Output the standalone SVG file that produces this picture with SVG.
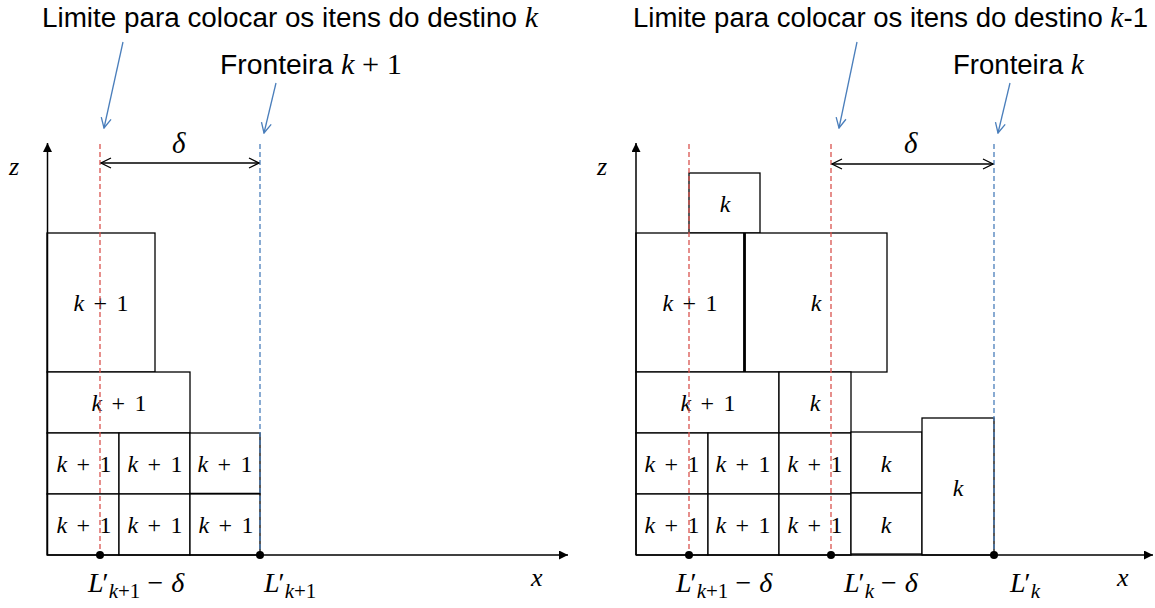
<svg xmlns="http://www.w3.org/2000/svg" width="1155" height="608" viewBox="0 0 1155 608">
<style>
.t{font-family:"Liberation Sans",Arial,sans-serif;font-size:27px;fill:#000}
.m{font-family:"Liberation Serif","DejaVu Serif",serif;fill:#000}
.mi{font-style:italic}
.lbl{font-family:"Liberation Serif","DejaVu Serif",serif;font-size:24px;text-anchor:middle;fill:#000}
.box{fill:#fff;stroke:#000;stroke-width:1.3}
.thick{fill:none;stroke:#000;stroke-width:2.5}
.ax{stroke:#000;stroke-width:1.5;fill:none}
.red{stroke:#d9534f;stroke-width:1.3;stroke-dasharray:5 3;fill:none}
.blue{stroke:#4a7ebb;stroke-width:1.3;stroke-dasharray:5 3;fill:none}
.call{stroke:#4a7ebb;stroke-width:1.3;fill:none}
.dim{stroke:#000;stroke-width:1.3;fill:none}
.bl{font-family:"Liberation Serif","DejaVu Serif",serif;font-size:28px;fill:#000}
.sub{font-size:21px}
</style>
<defs>
<marker id="ah" viewBox="0 0 10 10" refX="10" refY="5" markerWidth="10" markerHeight="9" markerUnits="userSpaceOnUse" orient="auto"><path d="M0,0 L10,5 L0,10 Z" fill="#000"/></marker>
<marker id="vb" viewBox="0 0 12 12" refX="11" refY="6" markerWidth="12" markerHeight="12" markerUnits="userSpaceOnUse" orient="auto"><path d="M1,1 L11,6 L1,11" fill="none" stroke="#4a7ebb" stroke-width="1.3"/></marker>
<marker id="vk" viewBox="0 0 12 12" refX="11" refY="6" markerWidth="12" markerHeight="12" markerUnits="userSpaceOnUse" orient="auto-start-reverse"><path d="M1,1 L11,6 L1,11" fill="none" stroke="#000" stroke-width="1.3"/></marker>
</defs>
<rect width="1155" height="608" fill="#fff"/>

<!-- titles -->
<g id="titles">
<text class="t" x="42" y="27" textLength="496" lengthAdjust="spacingAndGlyphs">Limite para colocar os itens do destino <tspan class="m mi" font-size="29">k</tspan></text>
<text class="t" x="220" y="74" textLength="182" lengthAdjust="spacingAndGlyphs">Fronteira <tspan class="m" font-size="29"><tspan class="mi">k</tspan> + 1</tspan></text>
<text class="t" x="633" y="27" textLength="515" lengthAdjust="spacingAndGlyphs">Limite para colocar os itens do destino <tspan class="m mi" font-size="29">k</tspan>-1</text>
<text class="t" x="953" y="74" textLength="131" lengthAdjust="spacingAndGlyphs">Fronteira <tspan class="m mi" font-size="29">k</tspan></text>
</g>

<!-- left panel boxes -->
<g id="L-top"><rect class="box" x="47" y="233" width="108" height="139"/><text class="lbl" x="101" y="311" textLength="55" lengthAdjust="spacing"><tspan class="mi">k</tspan> + 1</text></g>
<g id="L-row2"><rect class="box" x="47" y="372" width="143" height="61"/><text class="lbl" x="119" y="411" textLength="55" lengthAdjust="spacing"><tspan class="mi">k</tspan> + 1</text></g>
<g id="L-r3c1"><rect class="box" x="47" y="433" width="72" height="61"/><text class="lbl" x="84" y="472" textLength="55" lengthAdjust="spacing"><tspan class="mi">k</tspan> + 1</text></g>
<g id="L-r3c2"><rect class="box" x="119" y="433" width="71" height="61"/><text class="lbl" x="155" y="472" textLength="55" lengthAdjust="spacing"><tspan class="mi">k</tspan> + 1</text></g>
<g id="L-r3c3"><rect class="box" x="190" y="433" width="70" height="61"/><line class="thick" x1="190" y1="494" x2="260" y2="494" stroke-width="2"/><text class="lbl" x="225" y="472" textLength="55" lengthAdjust="spacing"><tspan class="mi">k</tspan> + 1</text></g>
<g id="L-r4c1"><rect class="box" x="47" y="494" width="72" height="61"/><text class="lbl" x="84" y="533" textLength="55" lengthAdjust="spacing"><tspan class="mi">k</tspan> + 1</text></g>
<g id="L-r4c2"><rect class="box" x="119" y="494" width="71" height="61"/><text class="lbl" x="155" y="533" textLength="55" lengthAdjust="spacing"><tspan class="mi">k</tspan> + 1</text></g>
<g id="L-r4c3"><rect class="box" x="190" y="494" width="70" height="61"/><text class="lbl" x="226" y="533" textLength="55" lengthAdjust="spacing"><tspan class="mi">k</tspan> + 1</text></g>

<!-- right panel boxes -->
<g id="R-topk"><rect class="box" x="689" y="173" width="71" height="60"/><text class="lbl" x="725" y="212"><tspan class="mi">k</tspan></text></g>
<g id="R-big1"><rect class="box" x="636" y="233" width="108" height="139"/><text class="lbl" x="690" y="311" textLength="55" lengthAdjust="spacing"><tspan class="mi">k</tspan> + 1</text></g>
<g id="R-bigk"><rect class="box" x="745" y="233" width="142" height="139"/><line class="thick" x1="744.5" y1="233" x2="744.5" y2="372" stroke-width="3"/><text class="lbl" x="816" y="311"><tspan class="mi">k</tspan></text></g>
<g id="R-row2a"><rect class="box" x="636" y="372" width="143" height="61"/><text class="lbl" x="708" y="411" textLength="55" lengthAdjust="spacing"><tspan class="mi">k</tspan> + 1</text></g>
<g id="R-row2b"><rect class="box" x="779" y="372" width="72" height="61"/><text class="lbl" x="815" y="411"><tspan class="mi">k</tspan></text></g>
<g id="R-r3c1"><rect class="box" x="636" y="433" width="72" height="61"/><text class="lbl" x="672" y="472" textLength="55" lengthAdjust="spacing"><tspan class="mi">k</tspan> + 1</text></g>
<g id="R-r3c2"><rect class="box" x="708" y="433" width="71" height="61"/><text class="lbl" x="743" y="472" textLength="55" lengthAdjust="spacing"><tspan class="mi">k</tspan> + 1</text></g>
<g id="R-r3c3"><rect class="box" x="779" y="433" width="72" height="61" stroke-width="2"/><text class="lbl" x="815" y="472" textLength="55" lengthAdjust="spacing"><tspan class="mi">k</tspan> + 1</text></g>
<g id="R-r3c4"><rect class="box" x="851" y="432" width="71" height="61" stroke-width="1.6"/><text class="lbl" x="886" y="472"><tspan class="mi">k</tspan></text></g>
<g id="R-r4c1"><rect class="box" x="636" y="494" width="72" height="61"/><text class="lbl" x="672" y="533" textLength="55" lengthAdjust="spacing"><tspan class="mi">k</tspan> + 1</text></g>
<g id="R-r4c2"><rect class="box" x="708" y="494" width="71" height="61"/><text class="lbl" x="743" y="533" textLength="55" lengthAdjust="spacing"><tspan class="mi">k</tspan> + 1</text></g>
<g id="R-r4c3"><rect class="box" x="779" y="494" width="72" height="61"/><text class="lbl" x="815" y="533" textLength="55" lengthAdjust="spacing"><tspan class="mi">k</tspan> + 1</text></g>
<g id="R-r4c4"><rect class="box" x="851" y="493" width="71" height="61" stroke-width="1.6"/><text class="lbl" x="886" y="533"><tspan class="mi">k</tspan></text></g>
<g id="R-tallk"><rect class="box" x="922" y="418" width="72" height="137"/><text class="lbl" x="958" y="496"><tspan class="mi">k</tspan></text></g>

<!-- connectors -->
<g id="connectors">
<line class="ax" x1="47.5" y1="555" x2="47.5" y2="143" marker-end="url(#ah)"/>
<line class="ax" x1="47" y1="555" x2="568" y2="555" marker-end="url(#ah)"/>
<line class="ax" x1="636" y1="555" x2="636" y2="143" marker-end="url(#ah)"/>
<line class="ax" x1="636" y1="555" x2="1153" y2="555" marker-end="url(#ah)"/>
<line class="red" x1="100" y1="144" x2="100" y2="555"/>
<line class="blue" x1="260" y1="144" x2="260" y2="555"/>
<line class="red" x1="689" y1="144" x2="689" y2="555"/>
<line class="red" x1="831" y1="144" x2="831" y2="555"/>
<line class="blue" x1="994" y1="144" x2="994" y2="555"/>
<line class="dim" x1="101" y1="163" x2="259" y2="163" marker-start="url(#vk)" marker-end="url(#vk)"/>
<line class="dim" x1="832" y1="164" x2="993" y2="164" marker-start="url(#vk)" marker-end="url(#vk)"/>
<line class="call" x1="123" y1="42" x2="104" y2="128" marker-end="url(#vb)"/>
<line class="call" x1="276" y1="83" x2="264" y2="133" marker-end="url(#vb)"/>
<line class="call" x1="857" y1="42" x2="839" y2="128" marker-end="url(#vb)"/>
<line class="call" x1="1010" y1="83" x2="998" y2="133" marker-end="url(#vb)"/>
<circle cx="100" cy="555" r="4"/>
<circle cx="260" cy="555" r="4"/>
<circle cx="689" cy="555" r="4"/>
<circle cx="831" cy="555" r="4"/>
<circle cx="994" cy="555" r="4"/>
</g>

<!-- axis and dimension labels -->
<g id="labels">
<text class="m mi" font-size="26" x="9" y="175">z</text>
<text class="m mi" font-size="26" x="597" y="175">z</text>
<text class="m mi" font-size="26" x="531" y="586">x</text>
<text class="m mi" font-size="26" x="1117" y="586">x</text>
<text class="m mi" font-size="29" x="172" y="153">δ</text>
<text class="m mi" font-size="29" x="904" y="153">δ</text>
<text class="bl" x="88" y="592"><tspan class="mi">L</tspan><tspan dx="-1">′</tspan><tspan class="sub" dy="6" dx="0"><tspan class="mi">k</tspan>+1</tspan><tspan dy="-6" dx="7">−</tspan><tspan class="mi" dx="8">δ</tspan></text>
<text class="bl" x="264" y="592"><tspan class="mi">L</tspan><tspan dx="-1">′</tspan><tspan class="sub" dy="6" dx="0"><tspan class="mi">k</tspan>+1</tspan></text>
<text class="bl" x="676" y="592"><tspan class="mi">L</tspan><tspan dx="-1">′</tspan><tspan class="sub" dy="6" dx="0"><tspan class="mi">k</tspan>+1</tspan><tspan dy="-6" dx="7">−</tspan><tspan class="mi" dx="8">δ</tspan></text>
<text class="bl" x="844" y="592"><tspan class="mi">L</tspan><tspan dx="-1">′</tspan><tspan class="sub mi" dy="6" dx="0">k</tspan><tspan dy="-6" dx="7">−</tspan><tspan class="mi" dx="8">δ</tspan></text>
<text class="bl" x="1010" y="592"><tspan class="mi">L</tspan><tspan dx="-1">′</tspan><tspan class="sub mi" dy="6" dx="0">k</tspan></text>
</g>
</svg>
